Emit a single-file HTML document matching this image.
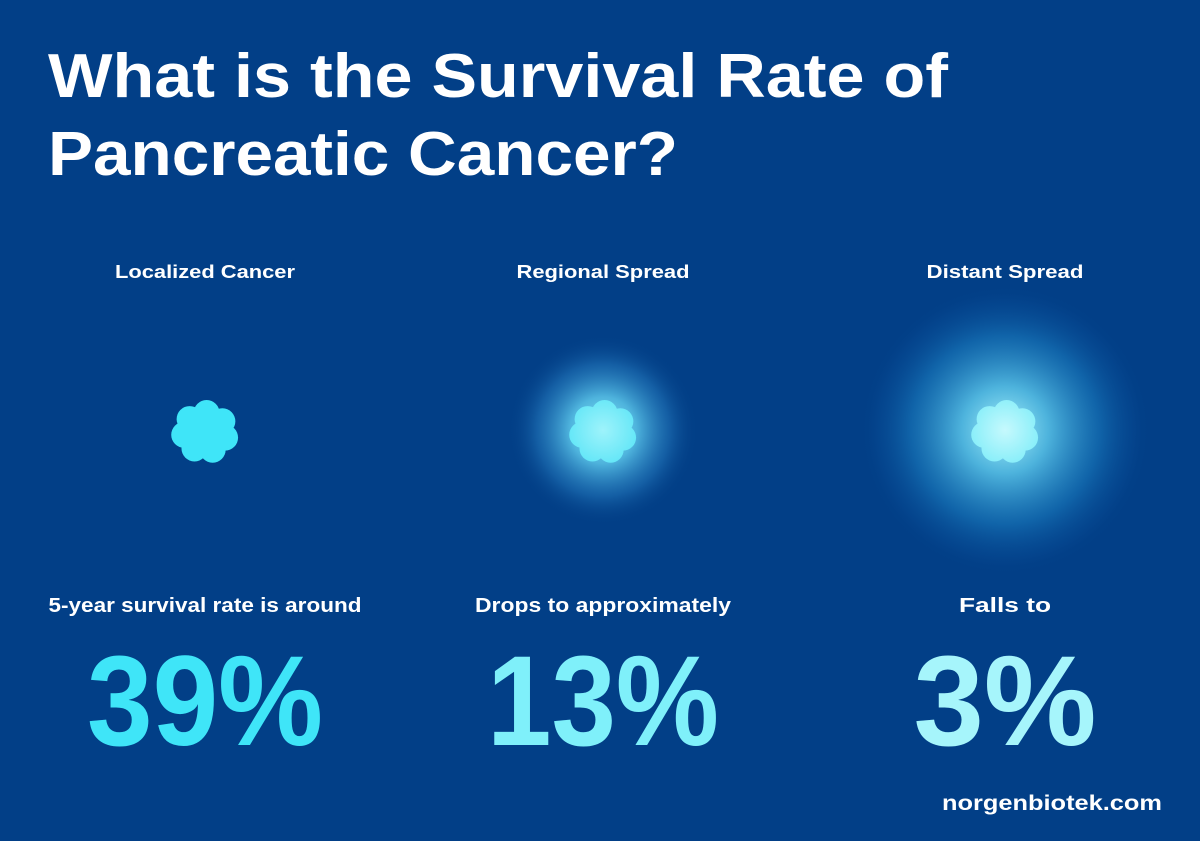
<!DOCTYPE html>
<html><head><meta charset="utf-8"><style>
html,body{margin:0;padding:0;background:#023f87;}
svg{display:block;font-family:"Liberation Sans",sans-serif;font-weight:bold;}
</style></head><body>
<svg id="chart" width="1200" height="841" viewBox="0 0 1200 841">
<defs id="defs">
<radialGradient id="g2"><stop offset="0" stop-color="#8cecf8" stop-opacity="1"/><stop offset="0.35" stop-color="#5cc8ec" stop-opacity="0.85"/><stop offset="0.7" stop-color="#2a85c8" stop-opacity="0.45"/><stop offset="1" stop-color="#023f87" stop-opacity="0"/></radialGradient>
<radialGradient id="g3"><stop offset="0" stop-color="#a8f2fb" stop-opacity="1"/><stop offset="0.3" stop-color="#56c0e6" stop-opacity="0.9"/><stop offset="0.65" stop-color="#1a7dc0" stop-opacity="0.6"/><stop offset="0.88" stop-color="#0a55a0" stop-opacity="0.25"/><stop offset="1" stop-color="#023f87" stop-opacity="0"/></radialGradient>
</defs>
<rect width="1200" height="841" fill="#023f87"/>
<text x="48" y="97" font-size="62" fill="#fff" textLength="900" lengthAdjust="spacingAndGlyphs">What is the Survival Rate of</text>
<text x="48" y="175" font-size="62" fill="#fff" textLength="630" lengthAdjust="spacingAndGlyphs">Pancreatic Cancer?</text>
<g id="cols"></g>
<text x="1162" y="810" font-size="21" fill="#fff" text-anchor="end" textLength="220" lengthAdjust="spacingAndGlyphs">norgenbiotek.com</text>
</svg>
<script>
const stages=["Localized Cancer","Regional Spread","Distant Spread"];
const descriptions=["5-year survival rate is around","Drops to approximately","Falls to"];
const rates=[39,13,3];
const NS="http://www.w3.org/2000/svg";
const centers=[205,603,1005];
const labelW=[180,173,157], descW=[313,256,92], numW=[236,232,183];
const numColors=["#3fe5f8","#7ff0fa","#a6f5fb"];
const glowR=[0,95,145], glowFill=["none","url(#g2)","url(#g3)"];
const cloudInner=["#3fe5f8","#9ef3fb","#c6f9fd"], cloudOuter=["#3fe5f8","#62e6f7","#86eef9"];
const g=document.getElementById('cols');
const defs=document.getElementById('defs');
function mk(tag,attrs,parent){const e=document.createElementNS(NS,tag);for(const k in attrs)e.setAttribute(k,attrs[k]);(parent||g).appendChild(e);return e;}
stages.forEach((s,i)=>{
  const cx=centers[i];
  const t=mk('text',{x:cx,y:278,'font-size':18,fill:'#fff','text-anchor':'middle',textLength:labelW[i],lengthAdjust:'spacingAndGlyphs'});
  t.textContent=s;
  
  
  if(glowR[i]){
    const c=mk('circle',{cx:cx,cy:430,r:glowR[i],fill:glowFill[i]});
    
    
  }
  const gr=mk('radialGradient',{id:'cg'+i,gradientUnits:'userSpaceOnUse',cx:cx,cy:430,r:36},defs);
  mk('stop',{offset:0,'stop-color':cloudInner[i]},gr);
  mk('stop',{offset:1,'stop-color':cloudOuter[i]},gr);
  const cl=mk('g',{fill:'url(#cg'+i+')'});
  
  
  mk('circle',{cx:cx,cy:432,r:24},cl);
  for(let k=0;k<7;k++){const a=k/7*2*Math.PI+0.3;mk('circle',{cx:cx+21*Math.cos(a),cy:432+19*Math.sin(a),r:13},cl);}
  const d=mk('text',{x:cx,y:612,'font-size':20,fill:'#fff','text-anchor':'middle',textLength:descW[i],lengthAdjust:'spacingAndGlyphs'});
  d.textContent=descriptions[i];
  
  
  const n=mk('text',{x:cx,y:745,'font-size':128,fill:numColors[i],'text-anchor':'middle',textLength:numW[i],lengthAdjust:'spacingAndGlyphs'});
  n.textContent=rates[i]+"%";
  
  
});
</script>
</body></html>
